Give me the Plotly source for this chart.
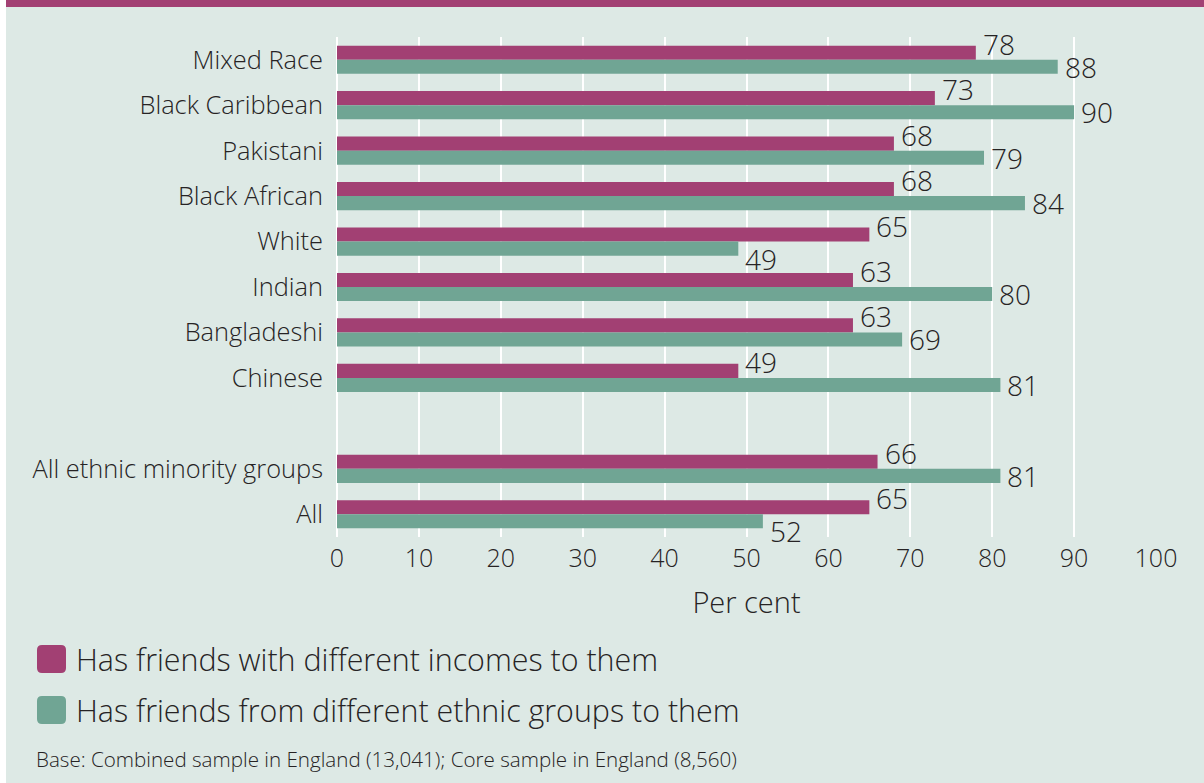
import plotly.graph_objects as go

# Friendship diversity by ethnic group (per cent)
groups = ["Mixed Race", "Black Caribbean", "Pakistani", "Black African", "White",
          "Indian", "Bangladeshi", "Chinese", " ", "All ethnic minority groups", "All"]
diff_income = [78, 73, 68, 68, 65, 63, 63, 49, None, 66, 65]
diff_ethnic = [88, 90, 79, 84, 49, 80, 69, 81, None, 81, 52]
series_names = ["Has friends with different incomes to them",
                "Has friends from different ethnic groups to them"]
x_ticks = [0, 10, 20, 30, 40, 50, 60, 70, 80, 90, 100]
footnote = "Base: Combined sample in England (13,041); Core sample in England (8,560)"

MAGENTA = "#a24073"
TEAL = "#70a594"
BG = "#dde9e5"
INK = "#262324"
FONT = "Open Sans"

W, H = 1204, 783
L, R, T, B = 337, 48, 37, 246
PW, PH = W - L - R, H - T - B


def px_x(p):
    return (p - L) / PW


def px_y(p):
    return (H - B - p) / PH


fig = go.Figure()
fig.add_trace(go.Bar(y=groups, x=diff_income, orientation="h", name=series_names[0],
                     marker=dict(color=MAGENTA, line=dict(width=0)), hoverinfo="x+y"))
fig.add_trace(go.Bar(y=groups, x=diff_ethnic, orientation="h", name=series_names[1],
                     marker=dict(color=TEAL, line=dict(width=0)), hoverinfo="x+y"))

label_font = dict(family=FONT, size=28, color=INK, weight=300)
annotations = []
for g, a, b in zip(groups, diff_income, diff_ethnic):
    if a is None:
        continue
    annotations.append(dict(x=a, y=g, xref="x", yref="y", text=str(a), showarrow=False,
                            xanchor="left", yanchor="middle", xshift=5, yshift=16,
                            font=label_font))
    # the lower label drops further when the upper bar reaches past it
    shift = -17 if b < a else -7
    annotations.append(dict(x=b, y=g, xref="x", yref="y", text=str(b), showarrow=False,
                            xanchor="left", yanchor="middle", xshift=5, yshift=shift,
                            font=label_font))

shapes = []

# panel background, white margin at left and magenta rule along the top
shapes.append(dict(type="rect", xref="paper", yref="paper", x0=px_x(6), x1=px_x(W + 2),
                   y0=px_y(H + 2), y1=px_y(-2), fillcolor=BG, line=dict(width=0), layer="below"))
shapes.append(dict(type="rect", xref="paper", yref="paper", x0=px_x(6), x1=px_x(W + 2),
                   y0=px_y(7), y1=px_y(-2), fillcolor=MAGENTA, line=dict(width=0), layer="below"))

# legend drawn as rounded swatches with text
for i, (name, col) in enumerate(zip(series_names, [MAGENTA, TEAL])):
    cy = 659 + i * 51
    x0, x1 = px_x(37), px_x(66)
    y0, y1 = px_y(cy + 14), px_y(cy - 14)
    rx, ry = 5 / PW, 5 / PH
    path = (f"M {x0 + rx},{y0} L {x1 - rx},{y0} Q {x1},{y0} {x1},{y0 + ry} "
            f"L {x1},{y1 - ry} Q {x1},{y1} {x1 - rx},{y1} L {x0 + rx},{y1} "
            f"Q {x0},{y1} {x0},{y1 - ry} L {x0},{y0 + ry} Q {x0},{y0} {x0 + rx},{y0} Z")
    shapes.append(dict(type="path", xref="paper", yref="paper", path=path,
                       fillcolor=col, line=dict(width=0)))
    annotations.append(dict(x=px_x(74), y=px_y(cy), xref="paper", yref="paper", text=name,
                            showarrow=False, xanchor="left", yanchor="middle",
                            font=dict(family=FONT, size=30.4, color=INK, weight=300)))

annotations.append(dict(x=px_x(34), y=px_y(759), xref="paper", yref="paper", text=footnote,
                        showarrow=False, xanchor="left", yanchor="middle",
                        font=dict(family=FONT, size=20.6, color=INK, weight=300)))

fig.update_layout(
    width=W, height=H,
    margin=dict(l=L, r=R, t=T, b=B, pad=0),
    paper_bgcolor="white", plot_bgcolor=BG,
    barmode="group", bargap=0.38, bargroupgap=0,
    showlegend=False,
    font=dict(family=FONT, color=INK, weight=300),
    annotations=annotations, shapes=shapes,
    xaxis=dict(range=[0, 100], tickvals=x_ticks, showgrid=True, gridcolor="white",
               gridwidth=2, zeroline=True, zerolinecolor="white", zerolinewidth=2,
               showline=False, ticks="", automargin=False,
               tickfont=dict(size=25, family=FONT, weight=300),
               ticklabelstandoff=4,
               title=dict(text="Per cent", font=dict(size=29, family=FONT, weight=300),
                          standoff=19)),
    yaxis=dict(categoryorder="array", categoryarray=groups, range=[10.5, -0.5],
               autorange=False, showgrid=False, zeroline=False, showline=False, ticks="",
               automargin=False,
               tickfont=dict(size=25.4, family=FONT, weight=300), ticklabelstandoff=13),
)

fig.write_html("out.html")
